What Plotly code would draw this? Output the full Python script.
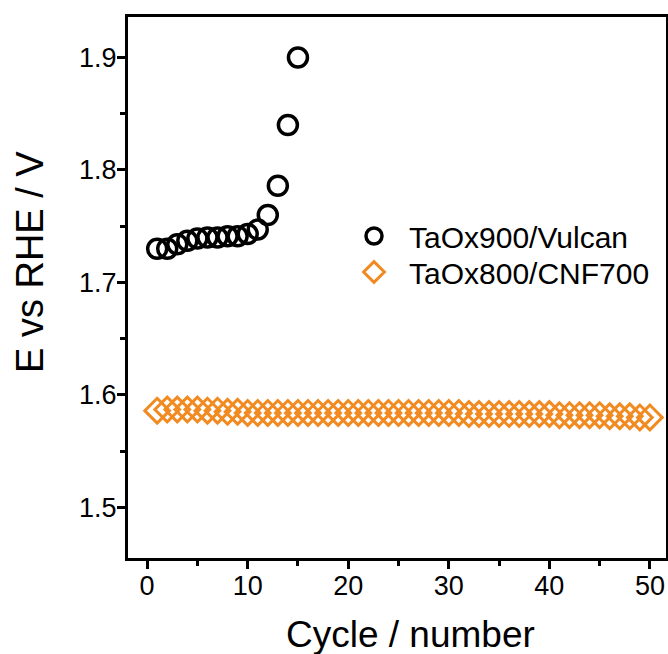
import plotly.graph_objects as go

cycles_vulcan = list(range(1, 16))
e_vulcan = [1.730, 1.730, 1.734, 1.737, 1.739, 1.740, 1.740, 1.741, 1.741,
            1.743, 1.747, 1.760, 1.786, 1.840, 1.900]

cycles_cnf = list(range(1, 51))
e_cnf = [1.586, 1.587, 1.587, 1.587, 1.587, 1.586, 1.586, 1.585, 1.585, 1.584,
         1.584, 1.584, 1.584, 1.584, 1.584, 1.584, 1.584, 1.584, 1.584, 1.584,
         1.584, 1.584, 1.584, 1.584, 1.584, 1.584, 1.584, 1.584, 1.584, 1.584,
         1.584, 1.583, 1.583, 1.583, 1.583, 1.583, 1.583, 1.583, 1.583, 1.583,
         1.582, 1.582, 1.582, 1.582, 1.582, 1.581, 1.581, 1.581, 1.580, 1.580]

x_ticks = [0, 10, 20, 30, 40, 50]
y_ticks = [1.5, 1.6, 1.7, 1.8, 1.9]

W, H = 668, 654
L, R, T, B = 128, 2, 17, 96
PW, PH = W - L - R, H - T - B

fig = go.Figure()
fig.add_trace(go.Scatter(
    x=cycles_vulcan, y=e_vulcan, mode="markers", name="\u2002TaOx900/Vulcan",
    legend="legend",
    marker=dict(symbol="circle-open", size=19, color="black",
                line=dict(width=3.5, color="black")),
))
fig.add_trace(go.Scatter(
    x=cycles_cnf, y=e_cnf, mode="markers", name="\u2002TaOx800/CNF700",
    legend="legend2",
    marker=dict(symbol="diamond-open", size=19, color="#F28A22",
                line=dict(width=3, color="#F28A22")),
))

font_family = "Liberation Sans, Arial, sans-serif"
axis_common = dict(
    showline=True, linecolor="black", linewidth=3, mirror=True,
    ticks="outside", ticklen=8, tickwidth=2.5, tickcolor="black",
    showgrid=False, zeroline=False, automargin=False,
    tickfont=dict(family=font_family, size=27, color="black"),
)
fig.update_xaxes(
    range=[-1.9, 51.6], tickvals=x_ticks, ticklabelstandoff=-6,
    minor=dict(ticks="outside", ticklen=5, tickwidth=2.5, tickcolor="black", dtick=5),
    **axis_common,
)
fig.update_yaxes(
    range=[1.455, 1.936], tickvals=y_ticks, ticktext=[f"{v:.1f}" for v in y_ticks],
    ticklabelstandoff=-5,
    minor=dict(ticks="outside", ticklen=5, tickwidth=2.5, tickcolor="black", dtick=0.05),
    **axis_common,
)

def py(ypix):
    return (H - B - ypix) / PH

def px(xpix):
    return (xpix - L) / PW

legend_font = dict(family=font_family, size=30, color="black")
fig.update_layout(
    width=W, height=H,
    margin=dict(l=L, r=R, t=T, b=B),
    paper_bgcolor="white", plot_bgcolor="white",
    showlegend=True,
    legend=dict(x=px(354), y=py(236), xanchor="left", yanchor="middle",
                font=legend_font, bgcolor="rgba(0,0,0,0)"),
    legend2=dict(x=px(354), y=py(272), xanchor="left", yanchor="middle",
                 font=legend_font, bgcolor="rgba(0,0,0,0)"),
    annotations=[
        dict(text="Cycle / number", xref="paper", yref="paper",
             x=px(410), y=py(634), xanchor="center", yanchor="middle",
             showarrow=False, font=dict(family=font_family, size=37, color="black")),
        dict(text="E vs RHE / V", xref="paper", yref="paper", textangle=-90,
             x=px(30), y=py(262), xanchor="center", yanchor="middle",
             showarrow=False, font=dict(family=font_family, size=38, color="black")),
    ],
)
fig.write_html("out.html")
